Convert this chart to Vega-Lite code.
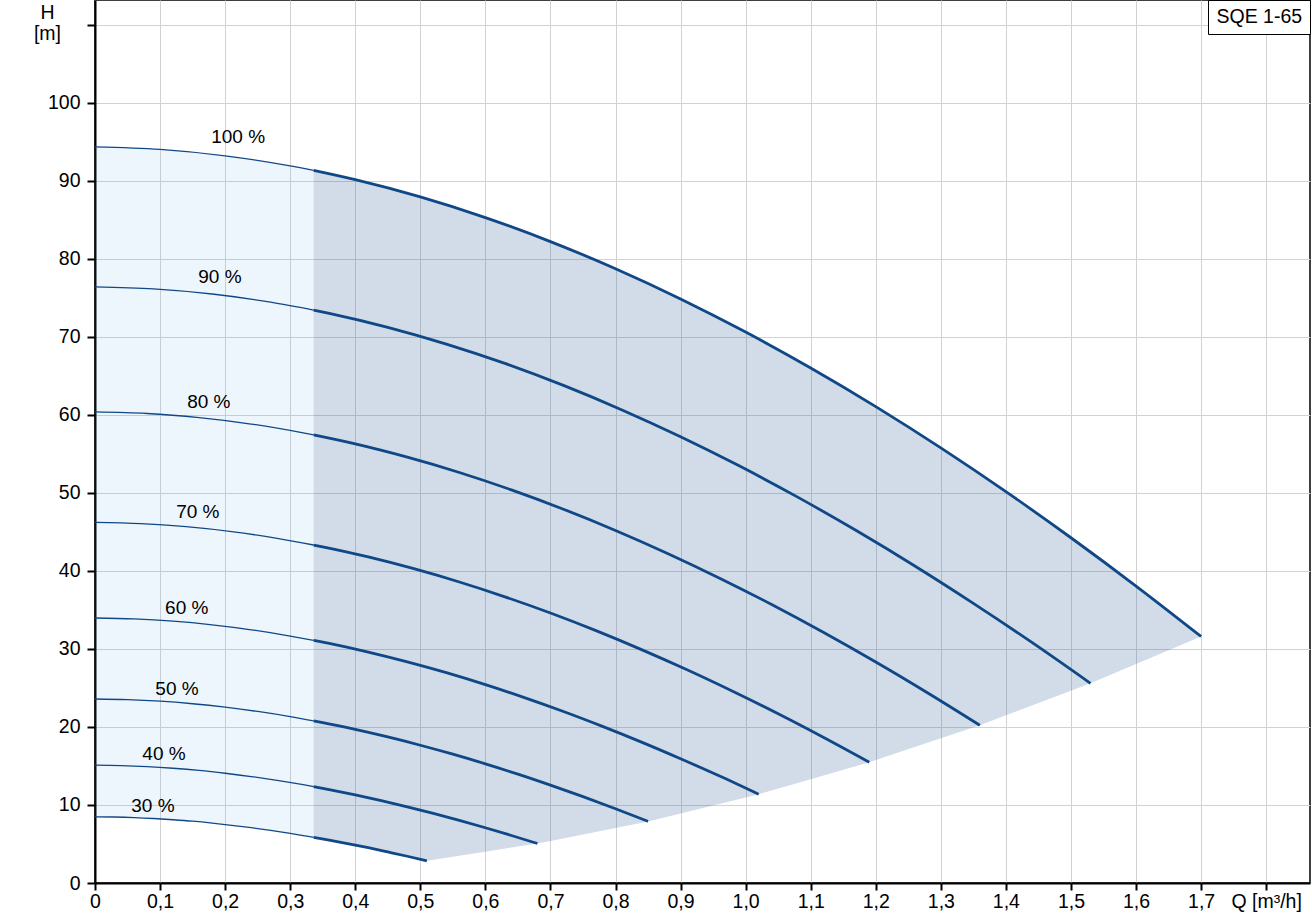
{
  "$schema": "https://vega.github.io/schema/vega-lite/v6.json",
  "width": 1215,
  "height": 883,
  "autosize": "none",
  "padding": {"left": 95, "top": 0, "right": 2, "bottom": 37},
  "background": "white",
  "config": {
    "font": "Liberation Sans",
    "view": {"stroke": "#000000", "strokeWidth": 1.5}
  },
  "datasets": {
    "light": [
      {"Q": 0, "top": 94.36, "bottom": 8.49},
      {"Q": 0.03, "top": 94.32, "bottom": 8.46},
      {"Q": 0.06, "top": 94.23, "bottom": 8.39},
      {"Q": 0.09, "top": 94.09, "bottom": 8.27},
      {"Q": 0.12, "top": 93.92, "bottom": 8.11},
      {"Q": 0.15, "top": 93.69, "bottom": 7.92},
      {"Q": 0.18, "top": 93.43, "bottom": 7.68},
      {"Q": 0.21, "top": 93.12, "bottom": 7.40},
      {"Q": 0.24, "top": 92.76, "bottom": 7.09},
      {"Q": 0.27, "top": 92.37, "bottom": 6.74},
      {"Q": 0.30, "top": 91.93, "bottom": 6.36},
      {"Q": 0.33, "top": 91.45, "bottom": 5.94},
      {"Q": 0.336, "top": 91.35, "bottom": 5.86}
    ],
    "dark": [
      {"Q": 0.336, "top": 91.35, "bottom": 5.86},
      {"Q": 0.36, "top": 90.92, "bottom": 5.50},
      {"Q": 0.39, "top": 90.36, "bottom": 5.02},
      {"Q": 0.42, "top": 89.76, "bottom": 4.52},
      {"Q": 0.45, "top": 89.11, "bottom": 3.98},
      {"Q": 0.48, "top": 88.43, "bottom": 3.43},
      {"Q": 0.51, "top": 87.70, "bottom": 2.84},
      {"Q": 0.6, "top": 85.30, "bottom": 4.02},
      {"Q": 0.68, "top": 82.88, "bottom": 5.06},
      {"Q": 0.7, "top": 82.23, "bottom": 5.39},
      {"Q": 0.8, "top": 78.75, "bottom": 7.06},
      {"Q": 0.85, "top": 76.86, "bottom": 7.90},
      {"Q": 0.9, "top": 74.88, "bottom": 8.92},
      {"Q": 1.0, "top": 70.63, "bottom": 10.97},
      {"Q": 1.02, "top": 69.74, "bottom": 11.38},
      {"Q": 1.1, "top": 66.02, "bottom": 13.31},
      {"Q": 1.19, "top": 61.58, "bottom": 15.48},
      {"Q": 1.2, "top": 61.07, "bottom": 15.76},
      {"Q": 1.3, "top": 55.78, "bottom": 18.55},
      {"Q": 1.36, "top": 52.45, "bottom": 20.22},
      {"Q": 1.4, "top": 50.17, "bottom": 21.49},
      {"Q": 1.5, "top": 44.26, "bottom": 24.65},
      {"Q": 1.53, "top": 42.43, "bottom": 25.60},
      {"Q": 1.6, "top": 38.07, "bottom": 28.07},
      {"Q": 1.7, "top": 31.60, "bottom": 31.60}
    ],
    "curves": [
      {"speed": "100", "Q": 0, "H": 94.36}, {"speed": "100", "Q": 0.1, "H": 94.04}, {"speed": "100", "Q": 0.2, "H": 93.22}, {"speed": "100", "Q": 0.3, "H": 91.93}, {"speed": "100", "Q": 0.336, "H": 91.35}, {"speed": "100", "Q": 0.4, "H": 90.16}, {"speed": "100", "Q": 0.5, "H": 87.95}, {"speed": "100", "Q": 0.6, "H": 85.30}, {"speed": "100", "Q": 0.7, "H": 82.23}, {"speed": "100", "Q": 0.8, "H": 78.75}, {"speed": "100", "Q": 0.9, "H": 74.88}, {"speed": "100", "Q": 1.0, "H": 70.63}, {"speed": "100", "Q": 1.1, "H": 66.02}, {"speed": "100", "Q": 1.2, "H": 61.07}, {"speed": "100", "Q": 1.3, "H": 55.78}, {"speed": "100", "Q": 1.4, "H": 50.17}, {"speed": "100", "Q": 1.5, "H": 44.26}, {"speed": "100", "Q": 1.6, "H": 38.07}, {"speed": "100", "Q": 1.7, "H": 31.60},
      {"speed": "90", "Q": 0, "H": 76.43}, {"speed": "90", "Q": 0.09, "H": 76.17}, {"speed": "90", "Q": 0.18, "H": 75.51}, {"speed": "90", "Q": 0.27, "H": 74.46}, {"speed": "90", "Q": 0.336, "H": 73.45}, {"speed": "90", "Q": 0.36, "H": 73.03}, {"speed": "90", "Q": 0.45, "H": 71.24}, {"speed": "90", "Q": 0.54, "H": 69.09}, {"speed": "90", "Q": 0.63, "H": 66.61}, {"speed": "90", "Q": 0.72, "H": 63.79}, {"speed": "90", "Q": 0.81, "H": 60.65}, {"speed": "90", "Q": 0.90, "H": 57.21}, {"speed": "90", "Q": 0.99, "H": 53.48}, {"speed": "90", "Q": 1.08, "H": 49.47}, {"speed": "90", "Q": 1.17, "H": 45.18}, {"speed": "90", "Q": 1.26, "H": 40.64}, {"speed": "90", "Q": 1.35, "H": 35.85}, {"speed": "90", "Q": 1.44, "H": 30.84}, {"speed": "90", "Q": 1.53, "H": 25.60},
      {"speed": "80", "Q": 0, "H": 60.39}, {"speed": "80", "Q": 0.08, "H": 60.19}, {"speed": "80", "Q": 0.16, "H": 59.66}, {"speed": "80", "Q": 0.24, "H": 58.84}, {"speed": "80", "Q": 0.32, "H": 57.70}, {"speed": "80", "Q": 0.336, "H": 57.44}, {"speed": "80", "Q": 0.40, "H": 56.29}, {"speed": "80", "Q": 0.48, "H": 54.59}, {"speed": "80", "Q": 0.56, "H": 52.63}, {"speed": "80", "Q": 0.64, "H": 50.40}, {"speed": "80", "Q": 0.72, "H": 47.92}, {"speed": "80", "Q": 0.80, "H": 45.20}, {"speed": "80", "Q": 0.88, "H": 42.25}, {"speed": "80", "Q": 0.96, "H": 39.08}, {"speed": "80", "Q": 1.04, "H": 35.70}, {"speed": "80", "Q": 1.12, "H": 32.11}, {"speed": "80", "Q": 1.20, "H": 28.33}, {"speed": "80", "Q": 1.28, "H": 24.36}, {"speed": "80", "Q": 1.36, "H": 20.22},
      {"speed": "70", "Q": 0, "H": 46.24}, {"speed": "70", "Q": 0.07, "H": 46.08}, {"speed": "70", "Q": 0.14, "H": 45.68}, {"speed": "70", "Q": 0.21, "H": 45.05}, {"speed": "70", "Q": 0.28, "H": 44.18}, {"speed": "70", "Q": 0.336, "H": 43.33}, {"speed": "70", "Q": 0.35, "H": 43.10}, {"speed": "70", "Q": 0.42, "H": 41.80}, {"speed": "70", "Q": 0.49, "H": 40.29}, {"speed": "70", "Q": 0.56, "H": 38.59}, {"speed": "70", "Q": 0.63, "H": 36.69}, {"speed": "70", "Q": 0.70, "H": 34.61}, {"speed": "70", "Q": 0.77, "H": 32.35}, {"speed": "70", "Q": 0.84, "H": 29.92}, {"speed": "70", "Q": 0.91, "H": 27.33}, {"speed": "70", "Q": 0.98, "H": 24.58}, {"speed": "70", "Q": 1.05, "H": 21.69}, {"speed": "70", "Q": 1.12, "H": 18.65}, {"speed": "70", "Q": 1.19, "H": 15.48},
      {"speed": "60", "Q": 0, "H": 33.97}, {"speed": "60", "Q": 0.06, "H": 33.85}, {"speed": "60", "Q": 0.12, "H": 33.56}, {"speed": "60", "Q": 0.18, "H": 33.09}, {"speed": "60", "Q": 0.24, "H": 32.46}, {"speed": "60", "Q": 0.30, "H": 31.66}, {"speed": "60", "Q": 0.336, "H": 31.11}, {"speed": "60", "Q": 0.36, "H": 30.71}, {"speed": "60", "Q": 0.42, "H": 29.60}, {"speed": "60", "Q": 0.48, "H": 28.35}, {"speed": "60", "Q": 0.54, "H": 26.96}, {"speed": "60", "Q": 0.60, "H": 25.43}, {"speed": "60", "Q": 0.66, "H": 23.77}, {"speed": "60", "Q": 0.72, "H": 21.99}, {"speed": "60", "Q": 0.78, "H": 20.08}, {"speed": "60", "Q": 0.84, "H": 18.06}, {"speed": "60", "Q": 0.90, "H": 15.93}, {"speed": "60", "Q": 0.96, "H": 13.71}, {"speed": "60", "Q": 1.02, "H": 11.38},
      {"speed": "50", "Q": 0, "H": 23.59}, {"speed": "50", "Q": 0.05, "H": 23.51}, {"speed": "50", "Q": 0.10, "H": 23.31}, {"speed": "50", "Q": 0.15, "H": 22.98}, {"speed": "50", "Q": 0.20, "H": 22.54}, {"speed": "50", "Q": 0.25, "H": 21.99}, {"speed": "50", "Q": 0.30, "H": 21.33}, {"speed": "50", "Q": 0.336, "H": 20.78}, {"speed": "50", "Q": 0.35, "H": 20.56}, {"speed": "50", "Q": 0.40, "H": 19.69}, {"speed": "50", "Q": 0.45, "H": 18.72}, {"speed": "50", "Q": 0.50, "H": 17.66}, {"speed": "50", "Q": 0.55, "H": 16.51}, {"speed": "50", "Q": 0.60, "H": 15.27}, {"speed": "50", "Q": 0.65, "H": 13.95}, {"speed": "50", "Q": 0.70, "H": 12.54}, {"speed": "50", "Q": 0.75, "H": 11.07}, {"speed": "50", "Q": 0.80, "H": 9.52}, {"speed": "50", "Q": 0.85, "H": 7.90},
      {"speed": "40", "Q": 0, "H": 15.10}, {"speed": "40", "Q": 0.04, "H": 15.05}, {"speed": "40", "Q": 0.08, "H": 14.92}, {"speed": "40", "Q": 0.12, "H": 14.71}, {"speed": "40", "Q": 0.16, "H": 14.43}, {"speed": "40", "Q": 0.20, "H": 14.07}, {"speed": "40", "Q": 0.24, "H": 13.65}, {"speed": "40", "Q": 0.28, "H": 13.16}, {"speed": "40", "Q": 0.32, "H": 12.60}, {"speed": "40", "Q": 0.336, "H": 12.36}, {"speed": "40", "Q": 0.36, "H": 11.98}, {"speed": "40", "Q": 0.40, "H": 11.30}, {"speed": "40", "Q": 0.44, "H": 10.56}, {"speed": "40", "Q": 0.48, "H": 9.77}, {"speed": "40", "Q": 0.52, "H": 8.92}, {"speed": "40", "Q": 0.56, "H": 8.03}, {"speed": "40", "Q": 0.60, "H": 7.08}, {"speed": "40", "Q": 0.64, "H": 6.09}, {"speed": "40", "Q": 0.68, "H": 5.06},
      {"speed": "30", "Q": 0, "H": 8.49}, {"speed": "30", "Q": 0.03, "H": 8.46}, {"speed": "30", "Q": 0.06, "H": 8.39}, {"speed": "30", "Q": 0.09, "H": 8.27}, {"speed": "30", "Q": 0.12, "H": 8.11}, {"speed": "30", "Q": 0.15, "H": 7.92}, {"speed": "30", "Q": 0.18, "H": 7.68}, {"speed": "30", "Q": 0.21, "H": 7.40}, {"speed": "30", "Q": 0.24, "H": 7.09}, {"speed": "30", "Q": 0.27, "H": 6.74}, {"speed": "30", "Q": 0.30, "H": 6.36}, {"speed": "30", "Q": 0.33, "H": 5.94}, {"speed": "30", "Q": 0.336, "H": 5.86}, {"speed": "30", "Q": 0.36, "H": 5.50}, {"speed": "30", "Q": 0.39, "H": 5.02}, {"speed": "30", "Q": 0.42, "H": 4.52}, {"speed": "30", "Q": 0.45, "H": 3.98}, {"speed": "30", "Q": 0.48, "H": 3.43}, {"speed": "30", "Q": 0.51, "H": 2.84}
    ],
    "labels": [
      {"text": "100 %", "Q": 0.22, "H": 95.6},
      {"text": "90 %", "Q": 0.192, "H": 77.7},
      {"text": "80 %", "Q": 0.175, "H": 61.7},
      {"text": "70 %", "Q": 0.158, "H": 47.6},
      {"text": "60 %", "Q": 0.141, "H": 35.3},
      {"text": "50 %", "Q": 0.126, "H": 24.9},
      {"text": "40 %", "Q": 0.106, "H": 16.5},
      {"text": "30 %", "Q": 0.089, "H": 9.9}
    ]
  },
  "layer": [
    {
      "data": {"name": "light"},
      "mark": {"type": "area", "color": "#55a5eb", "fillOpacity": 0.1},
      "encoding": {
        "x": {
          "field": "Q", "type": "quantitative", "title": null,
          "scale": {"domain": [0, 1.8674], "nice": false, "zero": false},
          "axis": {
            "values": [0, 0.1, 0.2, 0.3, 0.4, 0.5, 0.6, 0.7, 0.8, 0.9, 1.0, 1.1, 1.2, 1.3, 1.4, 1.5, 1.6, 1.7, 1.8],
            "labelExpr": "abs(datum.value - 1.8) < 0.001 ? 'Q [m³/h]' : (datum.value == 0 ? '0' : replace(format(datum.value, '.1f'), '.', ','))",
            "grid": true, "gridColor": "#d2d2d2", "gridWidth": 1,
            "domainColor": "#000000", "domainWidth": 2,
            "tickColor": "#000000", "tickWidth": 2, "tickSize": 7,
            "labelFontSize": 19.5, "labelColor": "#000000", "labelPadding": 2,
            "labelFlush": false, "labelOverlap": false
          }
        },
        "y": {
          "field": "top", "type": "quantitative", "title": null,
          "scale": {"domain": [0, 113.2], "nice": false, "zero": false},
          "axis": {
            "values": [0, 10, 20, 30, 40, 50, 60, 70, 80, 90, 100, 110],
            "labelExpr": "datum.value == 110 ? ['H', '[m]'] : datum.label",
            "grid": true, "gridColor": "#d2d2d2", "gridWidth": 1,
            "domainColor": "#000000", "domainWidth": 2,
            "tickColor": "#000000", "tickWidth": 2, "tickSize": 8,
            "labelFontSize": 19.5, "labelColor": "#000000",
            "labelLineHeight": 21,
            "labelAlign": {"condition": {"test": "datum.value == 110", "value": "center"}, "value": "right"},
            "labelPadding": {"condition": {"test": "datum.value == 110", "value": 40}, "value": 7},
            "labelOffset": {"condition": {"test": "datum.value == 110", "value": -12}, "value": 0},
            "labelBaseline": "middle",
            "labelFlush": false, "labelOverlap": false
          }
        },
        "y2": {"field": "bottom"}
      }
    },
    {
      "data": {"name": "dark"},
      "mark": {"type": "area", "color": "#19508c", "fillOpacity": 0.2},
      "encoding": {
        "x": {"field": "Q", "type": "quantitative", "title": null},
        "y": {"field": "top", "type": "quantitative", "title": null},
        "y2": {"field": "bottom"}
      }
    },
    {
      "data": {"name": "curves"},
      "transform": [{"filter": "datum.Q <= 0.3361"}],
      "mark": {"type": "line", "color": "#104887", "strokeWidth": 1.3, "interpolate": "monotone"},
      "encoding": {
        "x": {"field": "Q", "type": "quantitative", "title": null},
        "y": {"field": "H", "type": "quantitative", "title": null},
        "detail": {"field": "speed", "type": "nominal"}
      }
    },
    {
      "data": {"name": "curves"},
      "transform": [{"filter": "datum.Q >= 0.3359"}],
      "mark": {"type": "line", "strokeWidth": 2.8, "interpolate": "monotone"},
      "encoding": {
        "x": {"field": "Q", "type": "quantitative", "title": null},
        "y": {"field": "H", "type": "quantitative", "title": null},
        "detail": {"field": "speed", "type": "nominal"},
        "color": {
          "datum": "SQE 1-65", "type": "nominal",
          "scale": {"range": ["#104887"]},
          "legend": {
            "orient": "top-right", "offset": 0, "title": null,
            "strokeColor": "#000000", "fillColor": "#ffffff", "padding": 7,
            "cornerRadius": 0,
            "symbolType": "circle",
            "symbolSize": 0, "symbolOpacity": 0, "symbolStrokeWidth": 0,
            "labelFontSize": 19.5, "labelOffset": -18, "labelColor": "#000000",
            "labelFont": "Liberation Sans"
          }
        }
      }
    },
    {
      "data": {"name": "labels"},
      "mark": {"type": "text", "fontSize": 19, "color": "#000000", "align": "center", "baseline": "middle"},
      "encoding": {
        "x": {"field": "Q", "type": "quantitative", "title": null},
        "y": {"field": "H", "type": "quantitative", "title": null},
        "text": {"field": "text"}
      }
    }
  ]
}
